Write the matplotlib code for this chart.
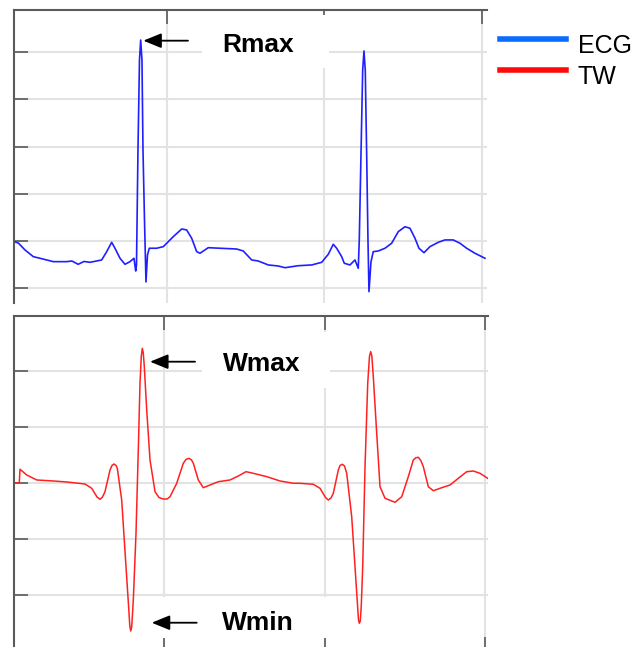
import numpy as np
import matplotlib
matplotlib.use("Agg")
import matplotlib.pyplot as plt
from matplotlib.lines import Line2D
from matplotlib.patches import Rectangle
from matplotlib.legend_handler import HandlerLine2D

plt.rcParams["font.family"] = ["Liberation Sans", "DejaVu Sans"]

# ECG trace (time in s, amplitude in mV)
ecg_t = [0.0143, 0.0279, 0.0492, 0.0756, 0.0968, 0.139, 0.1816, 0.198, 0.218, 0.2365,
         0.2556, 0.2927, 0.3086, 0.3244, 0.3349, 0.3508, 0.3667, 0.3825, 0.3952, 0.4006,
         0.4032, 0.4079, 0.4127, 0.4165, 0.4206, 0.4238, 0.4286, 0.4333, 0.4381, 0.4438,
         0.4673, 0.4883, 0.52, 0.5467, 0.5625, 0.5784, 0.5943, 0.6048, 0.6311, 0.6683,
         0.7213, 0.7422, 0.7689, 0.7898, 0.8216, 0.8533, 0.8746, 0.9168, 0.9594, 0.9911,
         1.0121, 1.0279, 1.0387, 1.0546, 1.0629, 1.081, 1.0968, 1.1073, 1.1105, 1.1159,
         1.1213, 1.1254, 1.1295, 1.134, 1.1381, 1.1413, 1.1476, 1.1549, 1.1708, 1.1921,
         1.2133, 1.2343, 1.2556, 1.2714, 1.2873, 1.3, 1.3159, 1.3349, 1.3613, 1.3825,
         1.4089, 1.4302, 1.4514, 1.4778, 1.5095]
ecg_v = [-0.007, -0.021, -0.095, -0.166, -0.183, -0.219, -0.219, -0.212, -0.247, -0.217,
         -0.226, -0.201, -0.113, -0.014, -0.077, -0.183, -0.247, -0.219, -0.183, -0.318,
         -0.254, 0.964, 1.917, 2.129, 1.917, 0.964, 0.222, -0.434, -0.148, -0.077,
         -0.077, -0.060, 0.046, 0.127, 0.117, 0.029, -0.113, -0.130, -0.071, -0.077,
         -0.085, -0.106, -0.201, -0.212, -0.254, -0.265, -0.283, -0.262, -0.254, -0.226,
         -0.141, -0.035, -0.077, -0.166, -0.236, -0.254, -0.201, -0.289, 0.011, 0.911,
         1.811, 2.013, 1.811, 0.911, 0.011, -0.537, -0.222, -0.113, -0.106, -0.077,
         -0.024, 0.099, 0.151, 0.135, 0.029, -0.077, -0.124, -0.060, -0.014, 0.011,
         0.011, -0.024, -0.077, -0.130, -0.183]

# wavelet transform of the same record
tw_t = [0.0327, 0.0492, 0.0514, 0.0723, 0.1034, 0.1551, 0.1969, 0.2539, 0.2748, 0.2913,
        0.3006, 0.3084, 0.3162, 0.3318, 0.338, 0.3442, 0.3505, 0.3545, 0.3682, 0.3816,
        0.3894, 0.3935, 0.3963, 0.3994, 0.4044, 0.4128, 0.4199, 0.4252, 0.4293, 0.4324,
        0.4355, 0.4386, 0.4461, 0.4564, 0.472, 0.4844, 0.4978, 0.5093, 0.5187, 0.5396,
        0.5601, 0.5685, 0.5779, 0.5857, 0.5913, 0.6069, 0.6224, 0.6433, 0.6692, 0.7056,
        0.7315, 0.7555, 0.7782, 0.8199, 0.8614, 0.9028, 0.9237, 0.9651, 0.986, 1.0031,
        1.0118, 1.0202, 1.0274, 1.043, 1.0483, 1.0555, 1.0623, 1.0692, 1.0847, 1.095,
        1.1028, 1.1059, 1.1084, 1.1115, 1.1146, 1.119, 1.1262, 1.1346, 1.1402, 1.1439,
        1.1474, 1.152, 1.1626, 1.1729, 1.1885, 1.2196, 1.2405, 1.2611, 1.2766, 1.2844,
        1.2922, 1.3000, 1.3078, 1.3234, 1.339, 1.3651, 1.391, 1.4168, 1.443, 1.4636,
        1.4844, 1.5115]
tw_v = [0.0, 0.0, 0.245, 0.143, 0.054, 0.036, 0.018, -0.018, -0.095, -0.25,
        -0.291, -0.25, -0.155, 0.232, 0.313, 0.339, 0.313, 0.263, -0.304, -1.495,
        -2.179, -2.554, -2.643, -2.571, -2.089, -0.893, 0.589, 1.780, 2.268, 2.405,
        2.321, 2.077, 1.304, 0.411, -0.155, -0.259, -0.286, -0.286, -0.245, -0.005,
        0.352, 0.42, 0.441, 0.411, 0.352, 0.054, -0.084, -0.036, 0.023, 0.054,
        0.125, 0.202, 0.173, 0.113, 0.036, -0.005, -0.005, -0.023, -0.095, -0.259,
        -0.304, -0.268, -0.184, 0.232, 0.313, 0.334, 0.304, 0.173, -0.602, -1.495,
        -2.179, -2.446, -2.505, -2.464, -2.179, -1.495, 0.291, 1.780, 2.268, 2.345,
        2.268, 1.898, 0.888, -0.066, -0.273, -0.345, -0.245, 0.113, 0.411, 0.45,
        0.459, 0.402, 0.291, -0.066, -0.138, -0.084, -0.036, 0.084, 0.202, 0.214,
        0.173, 0.071]

time_ticks = [0.5, 1.0, 1.5]
ecg_ticks = [-0.5, 0.0, 0.5, 1.0, 1.5, 2.0]
tw_ticks = [-2, -1, 0, 1, 2]

GRID = "#e3e3e3"
SPINE = "#5a5a5a"

W, H = 637, 647
fig = plt.figure(figsize=(W / 100, H / 100), dpi=100)


def px_axes(left, right, top, bottom):
    return fig.add_axes([left / W, 1 - bottom / H, (right - left) / W, (bottom - top) / H])


def style(ax, bottom_ticks):
    ax.set_axisbelow(True)
    ax.grid(True, color=GRID, linewidth=1.5)
    for side in ("right", "bottom"):
        ax.spines[side].set_visible(False)
    for side in ("left", "top"):
        ax.spines[side].set_color(SPINE)
        ax.spines[side].set_linewidth(1.5)
    ax.tick_params(direction="in", length=10, width=1.2, color=SPINE,
                   top=True, bottom=bottom_ticks, left=True, right=False,
                   labelleft=False, labelbottom=False)


def blank(ax, x0, x1, y0, y1):
    ax.add_patch(Rectangle((x0, y0), x1 - x0, y1 - y0, facecolor="white",
                           edgecolor="none", zorder=1))


class LiftedLine(HandlerLine2D):
    """Legend line drawn a little above the text centre."""

    def __init__(self, lift, **kw):
        super().__init__(**kw)
        self.lift = lift

    def create_artists(self, legend, orig_handle, xdescent, ydescent, width,
                       height, fontsize, trans):
        artists = super().create_artists(legend, orig_handle, xdescent, ydescent,
                                         width, height, fontsize, trans)
        for a in artists:
            a.set_ydata(np.asarray(a.get_ydata()) + self.lift)
        return artists


arrow = dict(arrowstyle="-|>,head_length=1.1,head_width=0.45", color="black",
             lw=1.3, shrinkA=0, shrinkB=0)
label_kw = dict(fontsize=19, fontweight="bold", ha="left", va="baseline", zorder=4)

# top panel: ECG
ax1 = px_axes(14, 487, 10, 303)
ax1.set_xlim(0.0143, 1.516)
ax1.set_ylim(-0.657, 2.447)
ax1.set_xticks(time_ticks)
ax1.set_yticks(ecg_ticks)
style(ax1, bottom_ticks=False)
blank(ax1, 0.611, 1.0143, 1.833, 2.394)
ax1.plot(ecg_t, ecg_v, color="#2020ff", linewidth=1.2, zorder=2)
ax1.annotate("", xy=(0.4248, 2.122), xytext=(0.5667, 2.122), arrowprops=arrow, zorder=3)
ax1.text(0.6768, 2.005, "Rmax", **label_kw)

# bottom panel: TW
ax2 = px_axes(14, 488, 316, 651)
ax2.set_xlim(0.0327, 1.5093)
ax2.set_ylim(-3.0, 2.982)
ax2.set_xticks(time_ticks)
ax2.set_yticks(tw_ticks)
style(ax2, bottom_ticks=True)
blank(ax2, 0.6184, 1.0171, 1.696, 2.696)
blank(ax2, 0.4813, 1.0171, -2.768, -2.036)
ax2.plot(tw_t, tw_v, color="#ff2020", linewidth=1.1, zorder=2)
ax2.annotate("", xy=(0.4564, 2.166), xytext=(0.5966, 2.166), arrowprops=arrow, zorder=3)
ax2.text(0.6847, 2.005, "Wmax", **label_kw)
ax2.annotate("", xy=(0.4617, -2.495), xytext=(0.6019, -2.495), arrowprops=arrow, zorder=3)
ax2.text(0.6798, -2.625, "Wmin", **label_kw)

handles = [Line2D([], [], color="#0a6cff", linewidth=4),
           Line2D([], [], color="#ff0a0a", linewidth=4)]
fig.legend(handles, ["ECG", "TW"], loc="upper left", bbox_to_anchor=(500 / W, 1 - 34 / H),
           frameon=False, fontsize=18, handlelength=2.64, handletextpad=0.48,
           labelspacing=0.28, borderpad=0, borderaxespad=0,
           handler_map={Line2D: LiftedLine(lift=3.6)})

fig.savefig("out.png", dpi=100)
